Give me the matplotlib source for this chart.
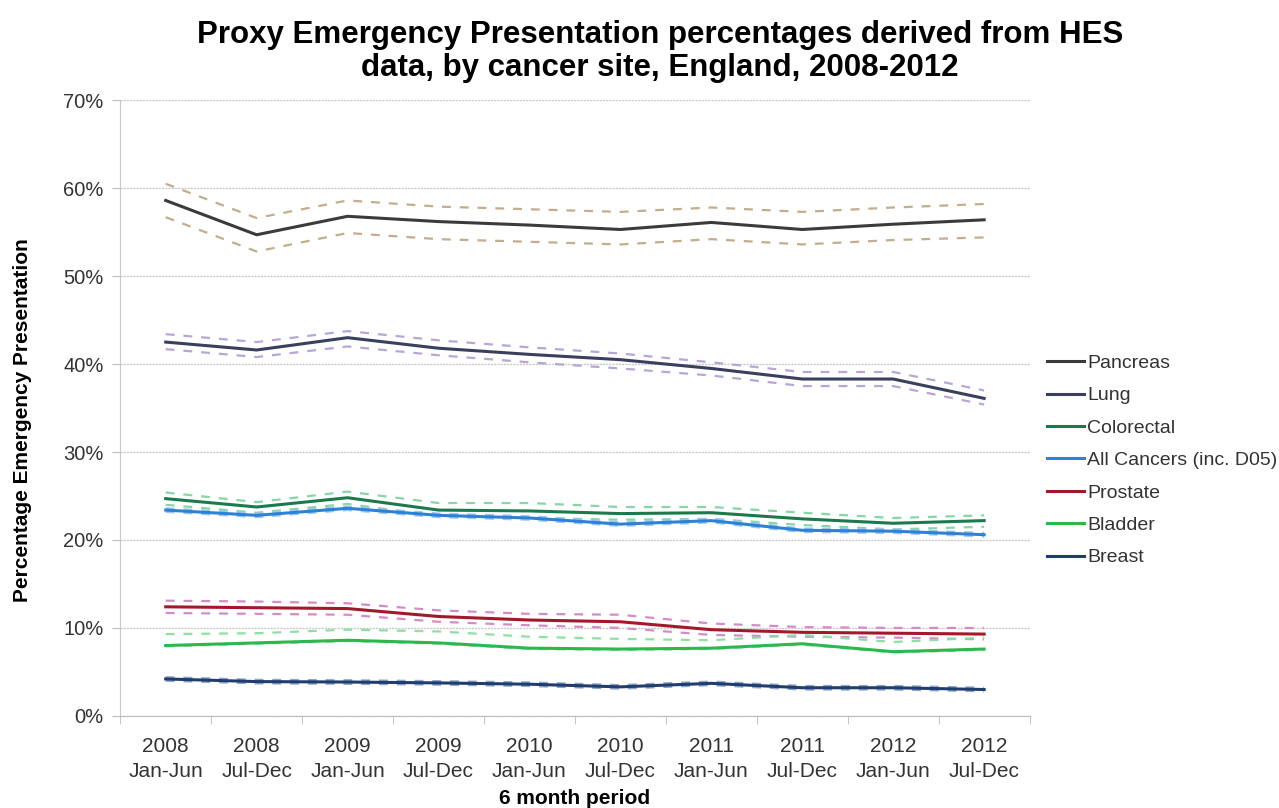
import numpy as np
import matplotlib
matplotlib.use("Agg")
import matplotlib.pyplot as plt

plt.rcParams['font.family'] = ['Liberation Sans', 'DejaVu Sans']

periods = ["2008\nJan-Jun", "2008\nJul-Dec", "2009\nJan-Jun", "2009\nJul-Dec",
           "2010\nJan-Jun", "2010\nJul-Dec", "2011\nJan-Jun", "2011\nJul-Dec",
           "2012\nJan-Jun", "2012\nJul-Dec"]

pancreas = [58.6, 54.7, 56.8, 56.2, 55.8, 55.3, 56.1, 55.3, 55.9, 56.4]
pancreas_hi = [60.5, 56.6, 58.6, 57.9, 57.6, 57.3, 57.8, 57.3, 57.8, 58.2]
pancreas_lo = [56.7, 52.8, 54.9, 54.2, 53.9, 53.6, 54.2, 53.6, 54.1, 54.4]

lung = [42.5, 41.6, 43.0, 41.8, 41.1, 40.5, 39.5, 38.3, 38.3, 36.1]
lung_hi = [43.4, 42.5, 43.75, 42.7, 41.9, 41.2, 40.2, 39.1, 39.1, 37.0]
lung_lo = [41.7, 40.8, 42.0, 41.0, 40.2, 39.5, 38.7, 37.5, 37.5, 35.4]

colorectal = [24.7, 23.75, 24.8, 23.4, 23.3, 23.0, 23.1, 22.4, 21.9, 22.2]
colorectal_hi = [25.4, 24.3, 25.5, 24.2, 24.2, 23.75, 23.75, 23.1, 22.5, 22.8]
colorectal_lo = [24.0, 23.1, 24.1, 22.7, 22.5, 22.3, 22.4, 21.7, 21.2, 21.5]

all_cancers = [23.4, 22.8, 23.6, 22.8, 22.5, 21.8, 22.2, 21.1, 21.0, 20.6]
all_cancers_hi = [23.6, 23.0, 23.8, 23.0, 22.7, 22.0, 22.4, 21.3, 21.2, 20.8]
all_cancers_lo = [23.2, 22.6, 23.4, 22.6, 22.3, 21.6, 22.0, 20.9, 20.8, 20.4]

prostate = [12.4, 12.3, 12.2, 11.3, 10.9, 10.7, 9.8, 9.5, 9.4, 9.3]
prostate_hi = [13.1, 13.0, 12.8, 12.0, 11.6, 11.5, 10.5, 10.1, 10.0, 10.0]
prostate_lo = [11.7, 11.6, 11.5, 10.7, 10.3, 10.0, 9.2, 9.0, 8.9, 8.7]

bladder = [8.0, 8.3, 8.6, 8.3, 7.7, 7.6, 7.7, 8.2, 7.3, 7.6]
bladder_hi = [9.3, 9.4, 9.8, 9.6, 9.0, 8.75, 8.6, 9.2, 8.4, 8.9]
bladder_lo = [7.9, 8.2, 8.5, 8.2, 7.6, 7.5, 7.6, 8.1, 7.2, 7.5]

breast = [4.2, 3.9, 3.85, 3.75, 3.6, 3.3, 3.7, 3.2, 3.2, 3.0]
breast_hi = [4.4, 4.1, 4.05, 3.95, 3.8, 3.5, 3.9, 3.4, 3.4, 3.2]
breast_lo = [4.0, 3.7, 3.65, 3.55, 3.4, 3.1, 3.5, 3.0, 3.0, 2.8]

series = [
    ("Pancreas", pancreas, pancreas_lo, pancreas_hi, "#3d3a3c", "#c2ad8c"),
    ("Lung", lung, lung_lo, lung_hi, "#3a3f5e", "#b8a6d6"),
    ("Colorectal", colorectal, colorectal_lo, colorectal_hi, "#1b7a4c", "#86d6a6"),
    ("All Cancers (inc. D05)", all_cancers, all_cancers_lo, all_cancers_hi, "#2d82d6", "#9cc6ee"),
    ("Prostate", prostate, prostate_lo, prostate_hi, "#a3192c", "#d48cc8"),
    ("Bladder", bladder, bladder_lo, bladder_hi, "#2db84f", "#8ee0a2"),
    ("Breast", breast, breast_lo, breast_hi, "#1f3d6e", "#8fa6c6"),
]

fig = plt.figure(figsize=(12.79, 8.08), dpi=100)
ax = fig.add_axes([0.094, 0.114, 0.711, 0.762])
x = np.arange(len(periods))

# confidence bounds first, main lines on top
for name, vals, lo, hi, col, cicol in series:
    ax.plot(x, hi, color=cicol, lw=1.6, dashes=(4, 4), zorder=2)
    ax.plot(x, lo, color=cicol, lw=1.6, dashes=(4, 4), zorder=2)
for name, vals, lo, hi, col, cicol in series:
    ax.plot(x, vals, color=col, lw=2.2, label=name, zorder=3)

ax.set_xlim(-0.5, len(periods) - 0.5)
ax.set_ylim(0, 70)
ax.set_yticks(np.arange(0, 71, 10))
ax.set_yticklabels(["%d%%" % v for v in range(0, 71, 10)])
ax.set_xticks(x)
ax.set_xticklabels(periods, linespacing=1.4)
ax.set_xticks(np.arange(-0.5, len(periods)), minor=True)
ax.tick_params(axis='x', which='major', length=0, pad=15, labelsize=15, colors='#333333')
ax.tick_params(axis='x', which='minor', length=6, color='#bbbbbb', direction='out')
ax.tick_params(axis='y', length=6, labelsize=14.5, colors='#333333', pad=6)
ax.tick_params(axis='y', color='#bbbbbb')

ax.grid(axis='y', color='#c8c8c8', lw=1.0, ls=(0, (1.5, 0.8)), zorder=0)
ax.set_axisbelow(True)
for s in ['top', 'right']:
    ax.spines[s].set_visible(False)
ax.spines['left'].set_color('#c8c8c8')
ax.spines['bottom'].set_color('#bbbbbb')

ax.set_ylabel("Percentage Emergency Presentation", fontsize=15, fontweight='bold')
ax.yaxis.set_label_coords(-0.097, 0.48)
ax.set_xlabel("6 month period", fontsize=15, fontweight='bold')
ax.xaxis.set_label_coords(0.5, -0.119)

fig.suptitle("Proxy Emergency Presentation percentages derived from HES\ndata, by cancer site, England, 2008-2012",
             x=0.516, y=0.975, fontsize=22.5, fontweight='bold', linespacing=1.12)

leg = ax.legend(loc='center left', bbox_to_anchor=(1.0, 0.415), frameon=False,
                fontsize=14, handlelength=1.9, handletextpad=0.15, labelspacing=0.76)
for t in leg.get_texts():
    t.set_color('#333333')

fig.savefig("out.png", dpi=100)
